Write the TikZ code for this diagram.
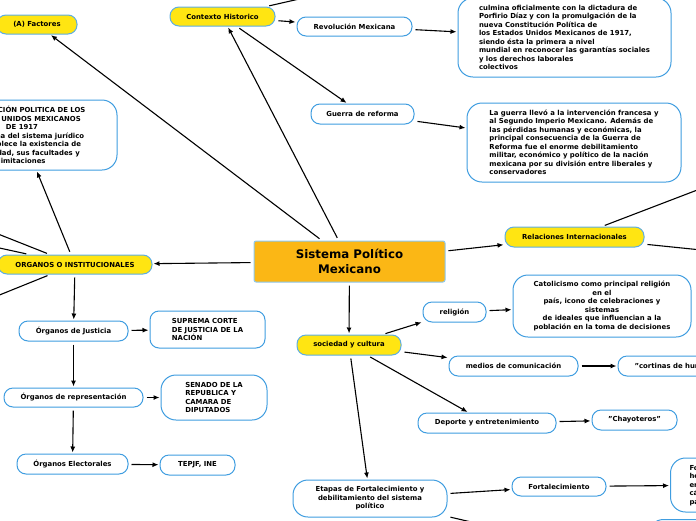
\documentclass[tikz,border=0pt]{standalone}
\usepackage{fontspec}
\setmainfont{DejaVu Sans}
\usetikzlibrary{arrows.meta,positioning}

\definecolor{yelfill}{HTML}{FFE512}
\definecolor{yelline}{HTML}{5DADE2}
\definecolor{corefill}{HTML}{FBB715}
\definecolor{coreline}{HTML}{8CC8F0}
\definecolor{whtline}{HTML}{3F9DE0}

\newcommand{\txtsmall}{\fontsize{6.9}{8.5}\selectfont\bfseries}
\newcommand{\txtbig}{\fontsize{11.8}{15}\selectfont\bfseries}

\begin{document}
\begin{tikzpicture}[
    x = 1pt, y = -1pt, % one unit = one pixel, y downwards
    > = {Latex[length=6pt,width=5pt]}, % arrow head style
    shorten > = 1pt, % don't touch arrow head to node
    shorten < = 3pt,
    line width = 1.1pt, % line style
    ]

    \tikzset{
    sz/.style 2 args = {minimum width=#1pt, minimum height=#2pt},
    yel/.style = {draw=yelline, fill=yelfill, rounded corners=9pt,
                  line width=1pt, font=\txtsmall, inner sep=0pt},
    wht/.style = {draw=whtline, fill=white, rounded corners=9pt,
                  line width=1pt, font=\txtsmall, inner sep=0pt},
    big/.style = {wht, rounded corners=15pt},
    core/.style = {draw=coreline, fill=corefill, rounded corners=2pt,
                   line width=1pt, font=\txtbig, align=center, inner sep=0pt},
    }

    \useasboundingbox (0,0) rectangle (696,520);
    \clip (0,0) rectangle (696,520);

    % centre
    \node[core, sz={191}{41}] (sis) at (349.5,261.5) {Sistema Político\\Mexicano};

    % top
    \node[yel, sz={80}{19}] (fac) at (37,24.5) {(A) Factores};
    \node[yel, sz={105}{19}] (ctx) at (222.5,16.5) {Contexto Historico};
    \node[wht, sz={115}{19}] (rev) at (354.5,26.5) {Revolución Mexicana};
    \node[big, sz={213}{79}, align=left] (revtxt) at (564.5,37.5)
        {culmina oficialmente con la dictadura de\\
         Porfirio Díaz y con la promulgación de la\\
         nueva Constitución Política de\\
         los Estados Unidos Mexicanos de 1917,\\
         siendo ésta la primera a nivel\\
         mundial en reconocer las garantías sociales\\
         y los derechos laborales\\
         colectivos};
    \node[wht, sz={103}{20}] (gue) at (362.5,114) {Guerra de reforma};
    \node[big, sz={214}{79}, align=left] (guetxt) at (574,142.5)
        {La guerra llevó a la intervención francesa y\\
         al Segundo Imperio Mexicano. Además de\\
         las pérdidas humanas y económicas, la\\
         principal consecuencia de la Guerra de\\
         Reforma fue el enorme debilitamiento\\
         militar, económico y político de la nación\\
         mexicana por su división entre liberales y\\
         conservadores};
    \node[yel, sz={139}{20}] (rel) at (574.5,237) {Relaciones Internacionales};

    % left
    \node[yel, sz={154}{19}] (org) at (75,264.5) {ORGANOS O INSTITUCIONALES};
    \node[big, sz={190}{70}, align=center] (con) at (22,135)
        {CONSTITUCIÓN POLITICA DE LOS\\
         ESTADOS UNIDOS MEXICANOS\\
         DE 1917\\
         Es la norma del sistema jurídico\\
         que establece la existencia de\\
         la autoridad, sus facultades y\\
         limitaciones};
    \node[wht, sz={109}{20}] (jus) at (73.5,331) {Órganos de Justicia};
    \node[wht, sz={115}{37}, align=left] (sup) at (207.5,329.5)
        {SUPREMA CORTE\\DE JUSTICIA DE LA\\NACIÓN};
    \node[wht, sz={139}{19}] (rep) at (73.5,397.5) {Órganos de representación};
    \node[big, sz={106}{45}, align=left] (sen) at (214,397.5)
        {SENADO DE LA\\REPUBLICA Y\\CAMARA DE\\DIPUTADOS};
    \node[wht, sz={111}{20}] (ele) at (72.5,464) {Órganos Electorales};
    \node[wht, sz={75}{20}] (tep) at (197.5,465) {TEPJF, INE};

    % bottom right
    \node[yel, sz={104}{20}] (soc) at (349,345) {sociedad y cultura};
    \node[wht, sz={63}{20}] (relg) at (454.5,312) {religión};
    \node[big, sz={178}{62}, align=center] (cat) at (602,306)
        {Catolicismo como principal religión\\en el\\
         país, icono de celebraciones y\\sistemas\\
         de ideales que influencian a la\\
         población en la toma de decisiones};
    \node[wht, sz={129}{20}] (med) at (513.5,366) {medios de comunicación};
    \node[wht, sz={110}{20}] (cor) at (673,366) {"cortinas de humo"};
    \node[wht, sz={138}{20}] (dep) at (487,423) {Deporte y entretenimiento};
    \node[wht, sz={85}{20}] (cha) at (634.5,420) {"Chayoteros"};
    \node[big, sz={154}{37}, align=center] (eta) at (370,498.5)
        {Etapas de Fortalecimiento y\\debilitamiento del sistema\\político};
    \node[wht, sz={94}{19}] (fort) at (559,486.5) {Fortalecimiento};
    \node[big, anchor=west, sz={130}{54}, text width=100pt, inner xsep=19pt,
          align=left] (fortxt) at (670,485)
        {Formación del PNR\\hegemonía del partido\\en el poder y en las\\
         cámaras legislativas\\para el control};
    \node[big, anchor=north west, sz={120}{50}] (deb) at (648,519) {};

    % ends that leave the picture
    \coordinate (c1) at (400,-24);
    \coordinate (c2) at (760,166);
    \coordinate (c3) at (760,256);
    \coordinate (c4) at (-60,211);
    \coordinate (c5) at (-60,235);
    \coordinate (c6) at (-60,319);
    \coordinate (c7) at (600,552);

    \path[->] (sis) edge (fac);
    \path[->] (sis) edge (ctx);
    \path[->] (ctx) edge (c1);
    \path[->] (ctx) edge (rev);
    \path[->] (ctx) edge (gue);
    \path[->] (rev) edge (revtxt);
    \path[->] (gue) edge (guetxt);
    \path[->] (sis) edge (rel);
    \path[->] (rel) edge (c2);
    \path[->] (rel) edge (c3);
    \path[->] (sis) edge (org);
    \path[->] (org) edge (con);
    \path[->] (org) edge (c4);
    \path[->] (org) edge (c5);
    \path[->] (org) edge (c6);
    \path[->] (org) edge (jus);
    \path[->] (jus) edge (rep);
    \path[->] (rep) edge (ele);
    \path[->] (jus) edge (sup);
    \path[->] (rep) edge (sen);
    \path[->] (ele) edge (tep);
    \path[->] (sis) edge (soc);
    \path[->] (soc) edge (relg);
    \path[->] (relg) edge (cat);
    \path[->] (soc) edge (med);
    \path[->] (med) edge (cor);
    \path[->] (soc) edge (dep);
    \path[->] (dep) edge (cha);
    \path[->] (soc) edge (eta);
    \path[->] (eta) edge (fort);
    \path[->] (fort) edge (fortxt);
    \path[->] (eta) edge (c7);
\end{tikzpicture}
\end{document}
